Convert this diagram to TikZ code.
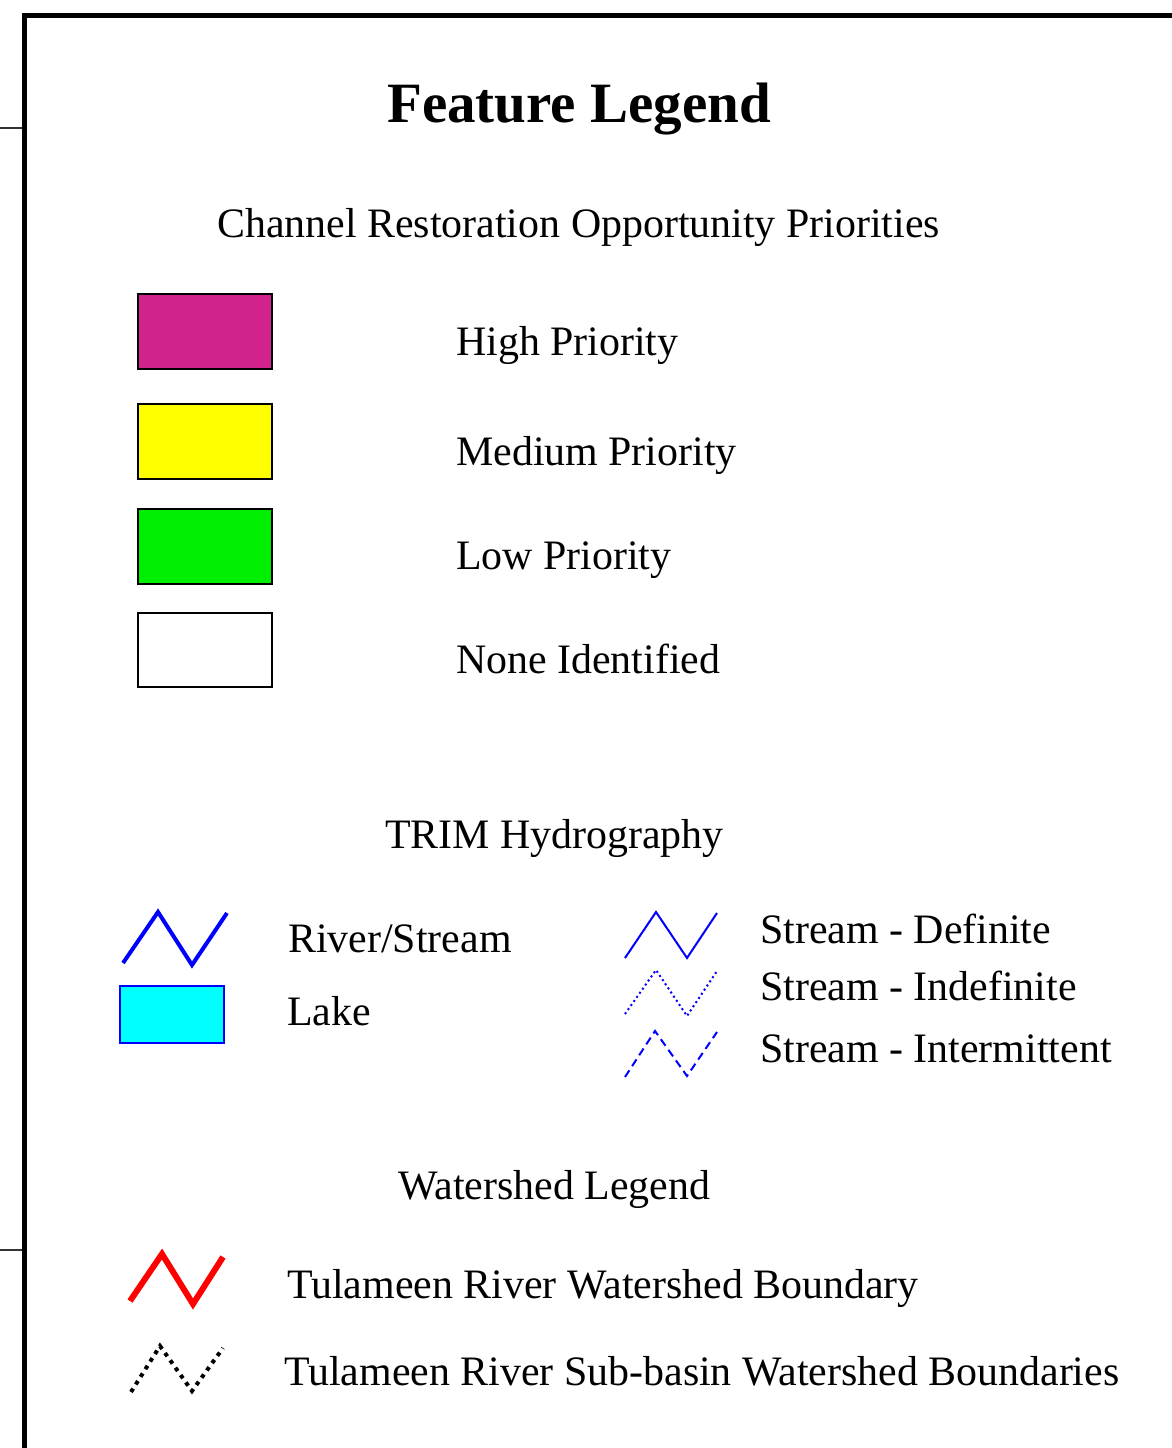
\documentclass[tikz,border=0pt]{standalone}
\usepackage{fontspec}
\setmainfont{Liberation Serif}
\begin{document}
\begin{tikzpicture}[x=1pt,y=-1pt,
  lbl/.style={anchor=base west,inner sep=0pt,font=\fontsize{41.9}{50}\selectfont},
  swatch/.style={draw=black,line width=2.2pt},
  frameline/.style={line width=5pt,draw=black},
  tick/.style={line width=1.3pt,draw=black!80}]
\definecolor{highc}{RGB}{210,35,140}
\definecolor{lowc}{RGB}{0,238,0}
\definecolor{medc}{RGB}{255,255,0}
\definecolor{lakec}{RGB}{0,255,255}
\definecolor{bluec}{RGB}{0,0,255}
\definecolor{redc}{RGB}{255,0,0}
\useasboundingbox (0,0) rectangle (1172,1448);
\fill[white] (0,0) rectangle (1172,1448);
% frame
\draw[frameline] (24.5,1448) -- (24.5,15.5) -- (1172,15.5);
\draw[tick] (0,128) -- (22,128);
\draw[tick] (0,1250) -- (22,1250);
% title
\node[anchor=base,inner sep=0pt,font=\fontsize{57}{60}\selectfont\bfseries] (title) at (579,122) {Feature Legend};
\node[lbl] (chan) at (217,237) {Channel Restoration Opportunity Priorities};
% swatches
\draw[swatch,fill=highc] (138,294) rectangle (272,369);
\draw[swatch,fill=medc] (138,404) rectangle (272,479);
\draw[swatch,fill=lowc] (138,509) rectangle (272,584);
\draw[swatch,fill=white] (138,613) rectangle (272,687);
\node[lbl] (high) at (456,355) {High Priority};
\node[lbl] (med) at (456,465) {Medium Priority};
\node[lbl] (low) at (456,569) {Low Priority};
\node[lbl] (none) at (456,673) {None Identified};
% TRIM
\node[lbl] (trim) at (385,848) {TRIM Hydrography};
\draw[bluec,line width=4pt] (123,963) -- (158,912) -- (192,965) -- (227,913);
\draw[draw=bluec,line width=2pt,fill=lakec] (120,986) rectangle (224,1043);
\node[lbl] (river) at (288,952) {River/Stream};
\node[lbl] (lake) at (287,1025) {Lake};
\draw[bluec,line width=2pt] (625,958) -- (656,912) -- (687,958) -- (717,913);
\draw[bluec,line width=2pt,dash pattern=on 2pt off 3pt] (625,1014) -- (656,970) -- (687,1016) -- (717,971);
\draw[bluec,line width=2pt,dash pattern=on 8pt off 5pt] (625,1077) -- (655,1031) -- (687,1076) -- (717,1032);
\node[lbl] (sdef) at (760,943) {Stream - Definite};
\node[lbl] (sind) at (760,1000) {Stream - Indefinite};
\node[lbl] (sint) at (760,1062) {Stream - Intermittent};
% watershed
\node[lbl] (wsl) at (398,1199) {Watershed Legend};
\draw[redc,line width=6pt] (130,1301) -- (162,1254) -- (193,1304) -- (223,1257);
\draw[black,line width=4pt,dash pattern=on 4pt off 5pt] (131,1392) -- (160,1346) -- (192,1391) -- (223,1348);
\node[lbl] (wsb) at (287,1298) {Tulameen River Watershed Boundary};
\node[lbl] (wss) at (284,1385) {Tulameen River Sub-basin Watershed Boundaries};
\end{tikzpicture}
\end{document}
